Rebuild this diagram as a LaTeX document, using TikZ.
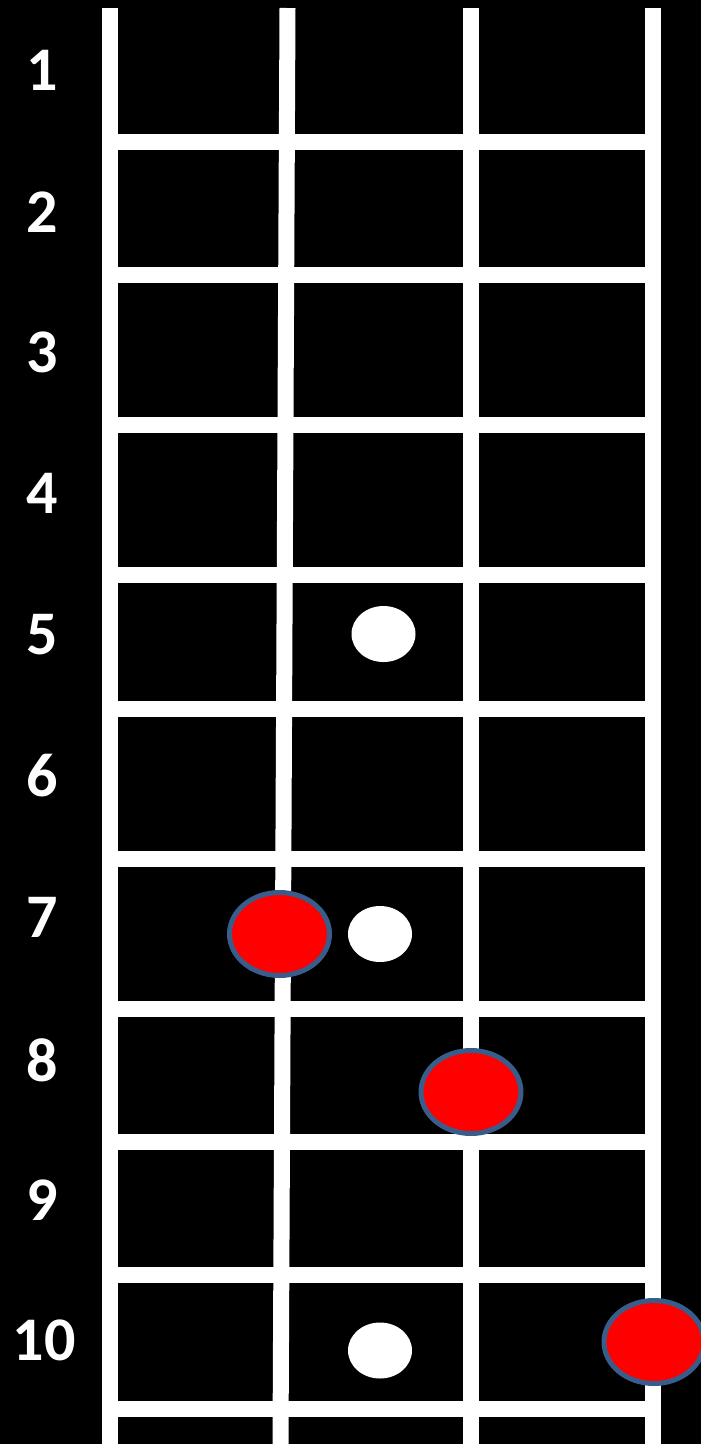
\documentclass[tikz,border=0pt]{standalone}
\usepackage{fontspec}
\setmainfont{Carlito}
\usetikzlibrary{shapes.geometric}
\definecolor{outl}{RGB}{56,93,138}
\definecolor{dotred}{RGB}{255,0,0}
\tikzset{
  stringline/.style={white, line width=16pt, line cap=butt},
  fretline/.style={white, line width=16pt, line cap=butt},
  fretnum/.style={text=white, font=\fontsize{62}{62}\selectfont\bfseries, inner sep=0pt, anchor=center},
  whitedot/.style={ellipse, fill=white, draw=none, minimum width=64pt, minimum height=56pt, inner sep=0pt},
  reddot/.style={ellipse, fill=dotred, draw=outl, line width=5pt, minimum width=100pt, minimum height=83pt, inner sep=0pt}
}
\begin{document}
\begin{tikzpicture}[x=1pt,y=-1pt]
\useasboundingbox (0,0) rectangle (701,1444);
\clip (0,0) rectangle (701,1444);
\fill[black] (0,0) rectangle (701,1444);
% frets
\foreach \y in {142,275,425,575,708.5,858.5,1008.5,1141.5,1275,1409}
  \draw[fretline] (110,\y) -- (653,\y);
% strings
\draw[stringline] (109.5,8) -- (109.5,1444);
\draw[stringline] (287.5,8) -- (280.5,1444);
\draw[stringline] (470.5,8) -- (470.5,1444);
\draw[stringline] (653,8) -- (653,1444);
% fret numbers
\node[fretnum] (n1) at (42.5,70.3) {1};
\node[fretnum] (n2) at (42.5,211.7) {2};
\node[fretnum] (n3) at (42.5,352.8) {3};
\node[fretnum] (n4) at (42.5,493.3) {4};
\node[fretnum] (n5) at (42.5,635) {5};
\node[fretnum] (n6) at (42.5,775.8) {6};
\node[fretnum] (n7) at (42.5,917.5) {7};
\node[fretnum] (n8) at (42.5,1060) {8};
\node[fretnum] (n9) at (42.5,1200) {9};
\node[fretnum] (n10) at (44,1340.5) {10};
% inlay dots
\node[whitedot] (w5) at (383.5,634) {};
\node[whitedot] (w7) at (380,934) {};
\node[whitedot] (w10) at (380,1350.5) {};
% red dots
\node[reddot] (r7) at (279.5,934) {};
\node[reddot] (r8) at (471,1092) {};
\node[reddot] (r10) at (654,1342) {};
\end{tikzpicture}
\end{document}
